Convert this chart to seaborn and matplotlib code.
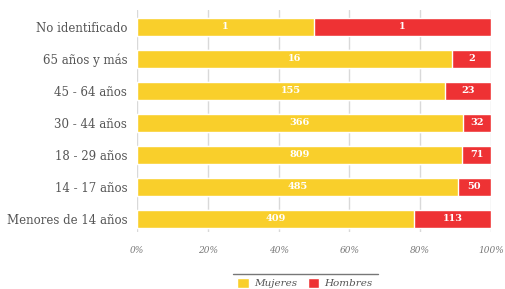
import matplotlib
matplotlib.use("Agg")
import matplotlib.pyplot as plt
import seaborn as sns
import pandas as pd
from matplotlib.patches import Patch
from matplotlib.lines import Line2D

categories = ["No identificado", "65 años y más", "45 - 64 años", "30 - 44 años",
              "18 - 29 años", "14 - 17 años", "Menores de 14 años"]
mujeres = [1, 16, 155, 366, 809, 485, 409]
hombres = [1, 2, 23, 32, 71, 50, 113]
tick_vals = [0, 20, 40, 60, 80, 100]
tick_labels = ["0%", "20%", "40%", "60%", "80%", "100%"]

YELLOW = "#F9CF2B"
RED = "#EE3234"
TXT = "#555555"

df = pd.DataFrame({"cat": categories, "m": mujeres, "h": hombres})
df["total"] = df["m"] + df["h"]
df["pm"] = df["m"] / df["total"] * 100
df["ph"] = 100.0
sns.set_style("white")
plt.rcParams["font.family"] = ["DejaVu Serif"]

fig = plt.figure(figsize=(5.05, 2.89), dpi=100)
ax = fig.add_axes([137/505, 1-232/289, (491-137)/505, (232-10)/289])

for v in tick_vals:
    ax.axvline(v, color="#d9d9d9", lw=1.0, zorder=0)

sns.barplot(data=df, y="cat", x="ph", color=RED, orient="h", width=0.57,
            saturation=1, ax=ax, zorder=2)
sns.barplot(data=df, y="cat", x="pm", color=YELLOW, orient="h", width=0.57,
            saturation=1, ax=ax, zorder=3)

for i, row in df.iterrows():
    ax.text(row["pm"]/2, i, str(row["m"]), color="white", ha="center", va="center",
            fontsize=7, fontweight="bold", zorder=5)
    ax.text(row["pm"] + (100-row["pm"])/2, i, str(row["h"]), color="white",
            ha="center", va="center", fontsize=7, fontweight="bold", zorder=5)

ax.set_xlim(0, 100)
ax.set_ylim(6.41, -0.53)
ax.set_xticks(tick_vals)
ax.set_xticklabels(tick_labels, fontstyle="italic", color="#777777", fontsize=6.5)
ax.tick_params(axis="x", length=4, color="#bbbbbb", pad=6, width=1)
ax.tick_params(axis="y", length=0, pad=7, labelsize=8.5, labelcolor=TXT)
ax.set_xlabel("")
ax.set_ylabel("")
for s in ax.spines.values():
    s.set_visible(False)

handles = [Patch(facecolor=YELLOW, label="Mujeres"), Patch(facecolor=RED, label="Hombres")]
leg = fig.legend(handles=handles, loc="center", bbox_to_anchor=(305/505, 1-283/289),
                 ncol=2, frameon=False, fontsize=7.5, handlelength=1.1, handleheight=1.1,
                 columnspacing=1.0, handletextpad=0.5, borderaxespad=0, borderpad=0)
for t in leg.get_texts():
    t.set_fontstyle("italic")
    t.set_color(TXT)
fig.add_artist(Line2D([233/505, 378/505], [1-274/289, 1-274/289], color="#777777", lw=1,
                      transform=fig.transFigure))

fig.savefig("out.png", dpi=100)
